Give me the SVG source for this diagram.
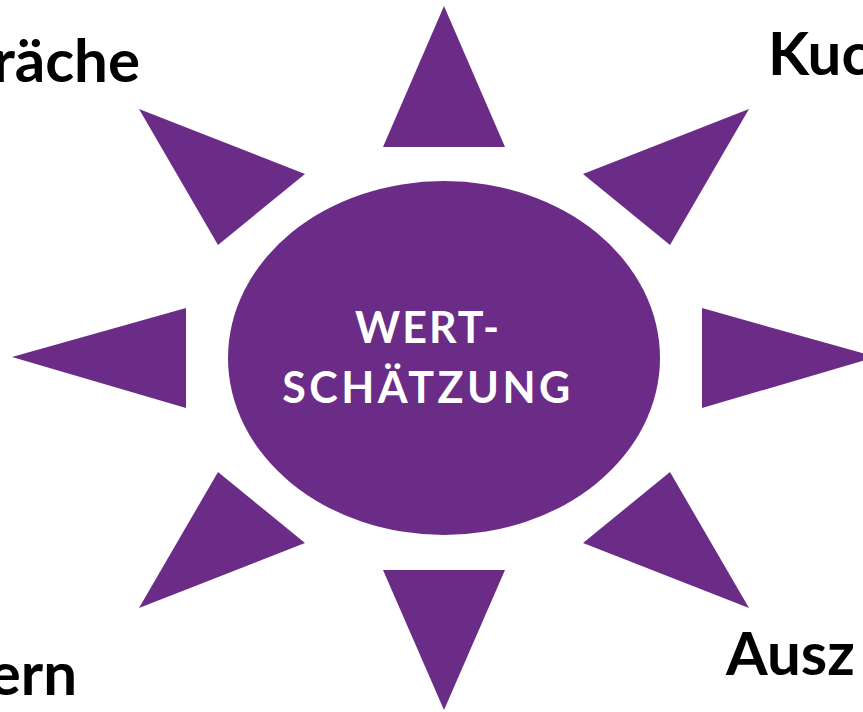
<svg xmlns="http://www.w3.org/2000/svg" width="863" height="712" viewBox="0 0 863 712">
<style>
.ray{fill:#6B2C87}
.lbl{font-family:Lato,"Liberation Sans",sans-serif;font-weight:bold;font-size:60px;fill:#000}
.ctr{font-family:Lato,"Liberation Sans",sans-serif;font-weight:bold;font-size:43px;fill:#fff;text-anchor:middle}
</style>
<rect width="863" height="712" fill="#fff"/>
<g id="rays">
<polygon class="ray" points="444,6 505,147 383,147"/>
<polygon class="ray" points="444,710 505,570 383,570"/>
<polygon class="ray" points="12,357 186,308 186,408"/>
<polygon class="ray" points="876,357 702,308 702,408"/>
<polygon class="ray" points="139,109 305,174 218,245"/>
<polygon class="ray" points="749,109 583,174 670,245"/>
<polygon class="ray" points="218,472 305,543 139,608"/>
<polygon class="ray" points="670,472 583,543 749,608"/>
</g>
<g id="center">
<ellipse class="ray" cx="444" cy="358" rx="216" ry="177"/>
<text class="ctr" x="428" y="343" letter-spacing="2">WERT-</text>
<text class="ctr" x="428" y="403" letter-spacing="3.5">SCHÄTZUNG</text>
</g>
<g id="labels">
<text class="lbl" x="140" y="82" text-anchor="end">räche</text>
<text class="lbl" x="768" y="75">Kuc</text>
<text class="lbl" x="77" y="695" text-anchor="end">ern</text>
<text class="lbl" x="726" y="675">Ausz</text>
</g>
<g id="connectors"/>
</svg>
